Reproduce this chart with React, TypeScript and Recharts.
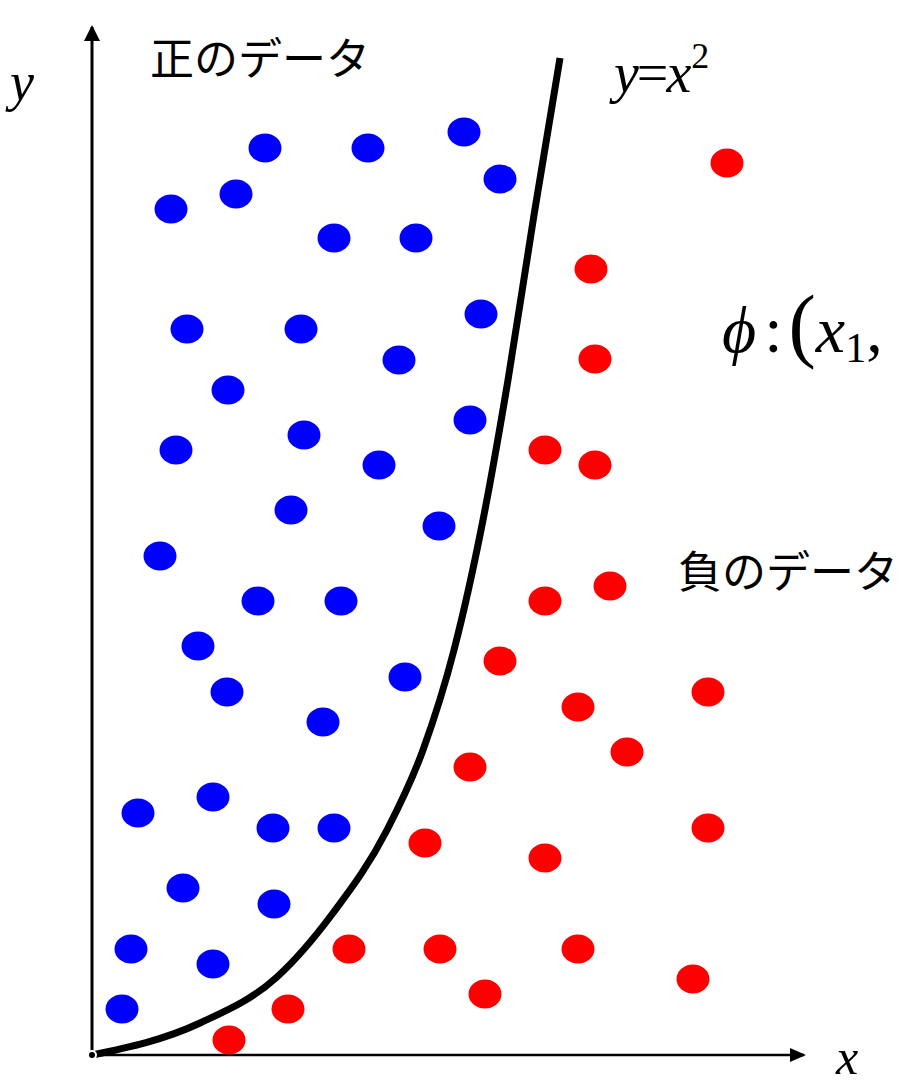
import {
  ComposedChart,
  Scatter,
  Line,
  XAxis,
  YAxis,
  ReferenceLine,
  Customized,
} from "recharts";

// picture coords, in 1/10 px from the origin (x right, y up)
const positive = [
  [17.3, 90.7], [27.6, 90.7], [37.2, 92.3], [40.8, 87.6], [7.9, 84.6], [14.4, 86.1],
  [24.2, 81.7], [32.4, 81.7], [9.5, 72.6], [20.9, 72.6], [38.9, 74.1], [30.7, 69.5],
  [13.6, 66.5], [8.4, 60.5], [21.2, 62.0], [37.8, 63.5], [28.7, 59.0], [19.9, 54.5],
  [34.7, 52.9], [6.8, 49.9], [16.6, 45.4], [24.9, 45.4], [10.6, 40.9], [13.5, 36.3],
  [31.3, 37.8], [23.1, 33.3], [4.6, 24.2], [12.1, 25.8], [18.1, 22.7], [24.2, 22.7],
  [9.1, 16.7], [18.2, 15.1], [3.9, 10.6], [12.1, 9.1], [3.0, 4.6],
];

const negative = [
  [63.5, 89.2], [49.9, 78.6], [50.3, 69.6], [45.3, 60.5], [50.3, 59.0], [45.3, 45.4],
  [51.8, 46.9], [40.8, 39.4], [48.6, 34.8], [61.6, 36.3], [53.5, 30.3], [37.8, 28.8],
  [61.6, 22.7], [33.3, 21.2], [45.3, 19.7], [25.7, 10.6], [34.8, 10.6], [48.6, 10.6],
  [60.1, 7.6], [39.3, 6.1], [19.6, 4.6], [13.7, 1.5],
];

const boundary = [
  [0, 0], [10.8, 3.2], [18.5, 7.8], [24.1, 14.2], [29.5, 22.5], [33.1, 30.5],
  [36.2, 40.5], [39.1, 53.5], [41.6, 67.5], [44.2, 84.0], [46.8, 99.7],
];

const toPts = (a: number[][]) => a.map(([x, y]) => ({ x, y }));

const Dot = (color: string) => (p: any) => (
  <ellipse cx={p.cx} cy={p.cy} rx={16.5} ry={14.5} fill={color} />
);

const Arrow = (dir: "up" | "right") => (p: any) => {
  const { x1, y1, x2, y2 } = p;
  const head =
    dir === "up"
      ? `${x2},${y2 - 2} ${x2 - 8},${y2 + 14} ${x2 + 8},${y2 + 14}`
      : `${x2 + 2},${y2} ${x2 - 14},${y2 - 7} ${x2 - 14},${y2 + 7}`;
  return (
    <g>
      <line x1={x1} y1={y1} x2={x2} y2={y2} stroke="#000" strokeWidth={dir === "up" ? 3 : 2.5} />
      <polygon points={head} fill="#000" />
    </g>
  );
};

const serif = "'Liberation Serif', 'DejaVu Serif', serif";
const jp = "'Noto Sans CJK JP', sans-serif";

const Labels = () => (
  <g>
    <text x={150} y={75} fontFamily={jp} fontSize={44} fill="#000">正のデータ</text>
    <text x={678} y={588} fontFamily={jp} fontSize={44} fill="#000">負のデータ</text>
    <text x={10} y={100} fontFamily={serif} fontStyle="italic" fontSize={54} fill="#000">y</text>
    <text x={836} y={1074} fontFamily={serif} fontStyle="italic" fontSize={50} fill="#000">x</text>
    <text x={614} y={92} fontFamily={serif} fontSize={56} fill="#000">
      <tspan fontStyle="italic">y</tspan>
      <tspan dx={-2}>=</tspan>
      <tspan dx={-2} fontStyle="italic">x</tspan>
      <tspan fontSize={36} dy={-24}>2</tspan>
    </text>
    <text x={722} y={352} fontFamily={serif} fontSize={66} fill="#000">
      <tspan fontStyle="italic">ϕ</tspan>
      <tspan dx={8}>:</tspan>
      <tspan dx={6} fontSize={82}>(</tspan>
      <tspan fontStyle="italic">x</tspan>
      <tspan fontSize={42} dy={10}>1</tspan>
      <tspan dy={-10}>,</tspan>
    </text>
  </g>
);

export default function App() {
  return (
    <div style={{ position: "absolute", left: 0, top: 0, width: 903, height: 1085, background: "#fff" }}>
      <ComposedChart width={903} height={1085} margin={{ top: 0, right: 0, bottom: 0, left: 0 }}>
        <XAxis type="number" dataKey="x" domain={[-9.2, 81.1]} hide allowDataOverflow />
        <YAxis type="number" dataKey="y" domain={[-3, 105.5]} hide allowDataOverflow />
        <ReferenceLine segment={[{ x: 0, y: 0 }, { x: 0, y: 102.8 }]} shape={Arrow("up")} ifOverflow="visible" />
        <ReferenceLine segment={[{ x: 0, y: 0 }, { x: 71.2, y: 0 }]} shape={Arrow("right")} ifOverflow="visible" />
        <Scatter data={toPts(positive)} shape={Dot("#0000ff")} isAnimationActive={false} />
        <Scatter data={toPts(negative)} shape={Dot("#ff0000")} isAnimationActive={false} />
        <Line
          data={toPts(boundary)}
          dataKey="y"
          type="monotone"
          dot={false}
          stroke="#000"
          strokeWidth={7}
          isAnimationActive={false}
        />
        <Customized component={Labels} />
      </ComposedChart>
    </div>
  );
}
